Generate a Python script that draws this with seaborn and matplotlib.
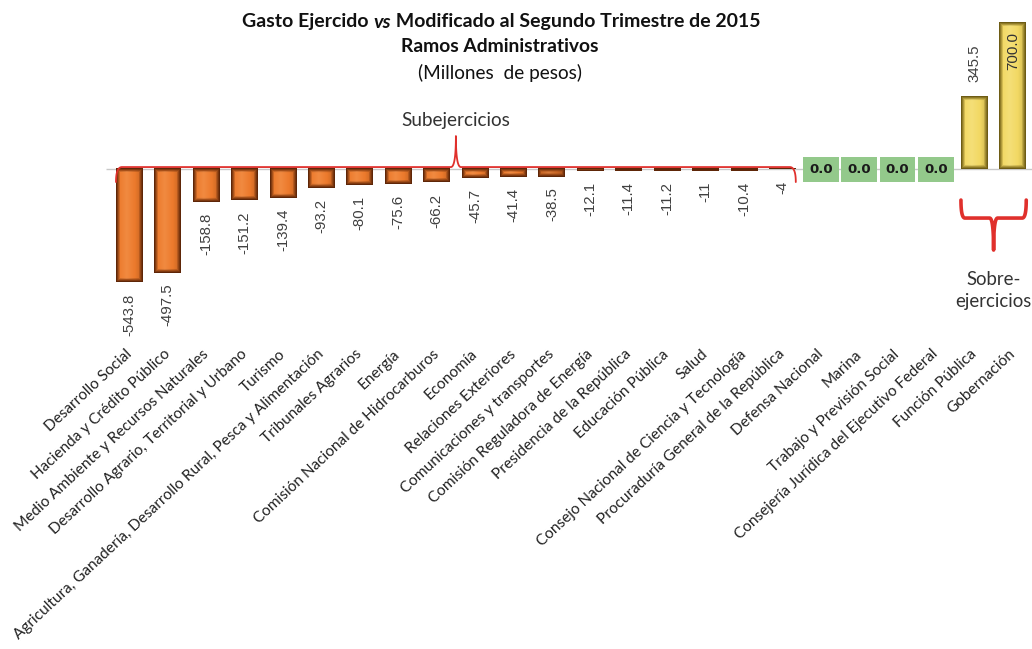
import numpy as np
import matplotlib
matplotlib.use("Agg")
import matplotlib.pyplot as plt
import seaborn as sns

# datos (millones de pesos)
ramos = [
    "Desarrollo Social", "Hacienda y Crédito Público", "Medio Ambiente y Recursos Naturales",
    "Desarrollo Agrario, Territorial y Urbano", "Turismo",
    "Agricultura, Ganadería, Desarrollo Rural, Pesca y Alimentación", "Tribunales Agrarios",
    "Energía", "Comisión Nacional de Hidrocarburos", "Economía", "Relaciones Exteriores",
    "Comunicaciones y transportes", "Comisión Reguladora de Energía",
    "Presidencia de la República", "Educación Pública", "Salud",
    "Consejo Nacional de Ciencia y Tecnología", "Procuraduría General de la República",
    "Defensa Nacional", "Marina", "Trabajo y Previsión Social",
    "Consejería Jurídica del Ejecutivo Federal", "Función Pública", "Gobernación",
]
valores = [-543.8, -497.5, -158.8, -151.2, -139.4, -93.2, -80.1, -75.6, -66.2, -45.7,
           -41.4, -38.5, -12.1, -11.4, -11.2, -11.0, -10.4, -4.0,
           0.0, 0.0, 0.0, 0.0, 345.5, 700.0]
etiquetas = ["-543.8", "-497.5", "-158.8", "-151.2", "-139.4", "-93.2", "-80.1", "-75.6",
             "-66.2", "-45.7", "-41.4", "-38.5", "-12.1", "-11.4", "-11.2", "-11", "-10.4",
             "-4", "0.0", "0.0", "0.0", "0.0", "345.5", "700.0"]

NARANJA = "#ec7a2c"
AMARILLO = "#f2d863"
VERDE = "#93c98b"
ROJO = "#e0302c"
GRIS_TXT = "#404040"

sns.set_theme(style="white")
plt.rcParams["font.family"] = ["Lato", "DejaVu Sans"]

fig = plt.figure(figsize=(10.32, 6.49), dpi=100)
ax = fig.add_axes([0, 0.468, 1, 0.532])

colores = {r: (NARANJA if v < 0 else AMARILLO) for r, v in zip(ramos, valores)}
sns.barplot(x=ramos, y=valores, hue=ramos, palette=colores, legend=False,
            width=0.7, saturation=1, ax=ax, edgecolor="none", zorder=2)

ax.set_xlim(-3.37, 23.5)
ax.set_ylim(-845, 806)
for s in ax.spines.values():
    s.set_visible(False)
ax.set_yticks([])
ax.set_ylabel("")
ax.tick_params(axis="x", length=0, pad=5)
ax.set_xticks(range(len(ramos)))
ax.set_xticklabels(ramos, rotation=43, ha="right", va="center",
                   rotation_mode="anchor", fontsize=11.1, color="#222222")
ax.hlines(0, -0.6, len(ramos), color="#c8c8c8", lw=1, zorder=1)


def mezcla(a, b, t):
    return a + (b - a) * t


def bisel(patch, base, oscuro, claro):
    # marco biselado dibujado sobre cada barra
    bb = patch.get_bbox()
    p0 = ax.transData.transform((bb.x0, min(bb.y0, bb.y1)))
    p1 = ax.transData.transform((bb.x1, max(bb.y0, bb.y1)))
    w = int(round(p1[0] - p0[0]))
    h = int(round(p1[1] - p0[1]))
    if h < 1:
        return
    yy, xx = np.mgrid[0:h, 0:w] + 0.5
    d = np.minimum.reduce([xx, w - xx, yy, h - yy])
    base = np.array(matplotlib.colors.to_rgb(base))
    oscuro = np.array(matplotlib.colors.to_rgb(oscuro))
    claro = np.array(matplotlib.colors.to_rgb(claro))
    t = np.clip((d - 0.5) / 4.0, 0, 1)[..., None]
    img = mezcla(oscuro, base, t)
    # sombra lateral derecha y reflejo suave en el centro
    sombra = np.clip((xx - (w - 8)) / 8, 0, 1)[..., None]
    img = mezcla(img, oscuro, sombra * 0.3)
    brillo = np.clip(1 - np.abs(xx - w * 0.4) / (w * 0.3), 0, 1)[..., None] * (d[..., None] > 3)
    img = mezcla(img, claro, brillo * 0.3)
    ax.imshow(img, extent=(bb.x0, bb.x1, min(bb.y0, bb.y1), max(bb.y0, bb.y1)),
              aspect="auto", interpolation="bilinear", zorder=3)


for patch, v in zip(ax.patches, valores):
    if v < 0:
        bisel(patch, NARANJA, "#5e2608", "#fcae70")
    elif v > 0:
        bisel(patch, AMARILLO, "#6e5c14", "#fbf0a8")

ax.set_xlim(-3.37, 23.5)
ax.set_ylim(-845, 806)

# etiquetas de valores
for i, (v, e) in enumerate(zip(valores, etiquetas)):
    if v < 0:
        ax.annotate(e, (i, v), xytext=(0, -11), textcoords="offset pixels",
                    rotation=90, ha="center", va="top", fontsize=10.8,
                    family="Liberation Sans", color=GRIS_TXT, zorder=6)
    elif v == 0:
        ax.annotate(e, (i, v), xytext=(0, -1), textcoords="offset pixels",
                    ha="center", va="center", fontsize=9.5, fontweight="bold",
                    family="DejaVu Sans", color="#1a1a1a", zorder=6,
                    bbox=dict(boxstyle="square,pad=0.45", fc=VERDE, ec="none"))
    elif v == max(valores):
        ax.annotate(e, (i, v), xytext=(0, -10), textcoords="offset pixels",
                    rotation=90, ha="center", va="top", fontsize=10.8,
                    family="Liberation Sans", color="#333333", zorder=6)
    else:
        ax.annotate(e, (i, v), xytext=(0, 14), textcoords="offset pixels",
                    rotation=90, ha="center", va="bottom", fontsize=10.8,
                    family="Liberation Sans", color=GRIS_TXT, zorder=6)


def bezier(p0, c, p1, n=20):
    t = np.linspace(0, 1, n)[:, None]
    return (1 - t) ** 2 * p0 + 2 * (1 - t) * t * c + t ** 2 * p1


def llave(i0, i1, dy, extremo, pico, r, s, **kw):
    # llave en pixeles respecto a la linea de cero
    x0, y = ax.transData.transform((i0, 0))
    x1, _ = ax.transData.transform((i1, 0))
    y = y + dy
    xm = (x0 + x1) / 2
    P = np.array
    tramos = [
        bezier(P([x0, y + extremo]), P([x0, y]), P([x0 + r, y])),
        bezier(P([xm - s, y]), P([xm, y]), P([xm, y + pico])),
        bezier(P([xm, y + pico]), P([xm, y]), P([xm + s, y])),
        bezier(P([x1 - r, y]), P([x1, y]), P([x1, y + extremo])),
    ]
    pts = np.vstack(tramos)
    datos = ax.transData.inverted().transform(pts)
    ax.plot(datos[:, 0], datos[:, 1], solid_capstyle="round", zorder=5, **kw)


neg = [i for i, v in enumerate(valores) if v < 0]
pos = [i for i, v in enumerate(valores) if v > 0]
llave(neg[0] - 0.35, neg[-1] + 0.35, 1.5, -15, 31, 6, 5, color=ROJO, lw=1.3)
llave(pos[0] - 0.35, pos[-1] + 0.35, -49.5, 18, -32, 4, 4, color=ROJO, lw=2.6)

ax.annotate("Subejercicios", ((neg[0] + neg[-1]) / 2, 0), xytext=(0, 48),
            textcoords="offset pixels", ha="center", va="center", fontsize=13.6,
            color="#333333")
ax.annotate("Sobre-\nejercicios", ((pos[0] + pos[-1]) / 2, 0), xytext=(0, -122),
            textcoords="offset pixels", ha="center", va="center", fontsize=13.4,
            color="#333333", linespacing=1.3)

# titulo con "vs" en cursiva
r = fig.canvas.get_renderer()
partes = [("Gasto Ejercido ", "normal"), ("vs", "italic"),
          (" Modificado al Segundo Trimestre de 2015", "normal")]
textos = [fig.text(0, 1 - 22 / 649, p, fontsize=14, fontweight="bold", fontstyle=st,
                   va="center", ha="left", color="#111111") for p, st in partes]
anchos = [t.get_window_extent(r).width for t in textos]
x = 501 - sum(anchos) / 2
for t, a in zip(textos, anchos):
    t.set_x(x / 1032)
    x += a
fig.text(500 / 1032, 1 - 47 / 649, "Ramos Administrativos", fontsize=13.9,
         fontweight="bold", ha="center", va="center", color="#111111")
fig.text(500 / 1032, 1 - 73 / 649, "(Millones  de pesos)", fontsize=13.7,
         ha="center", va="center", color="#111111")

fig.savefig("out.png", dpi=100)
